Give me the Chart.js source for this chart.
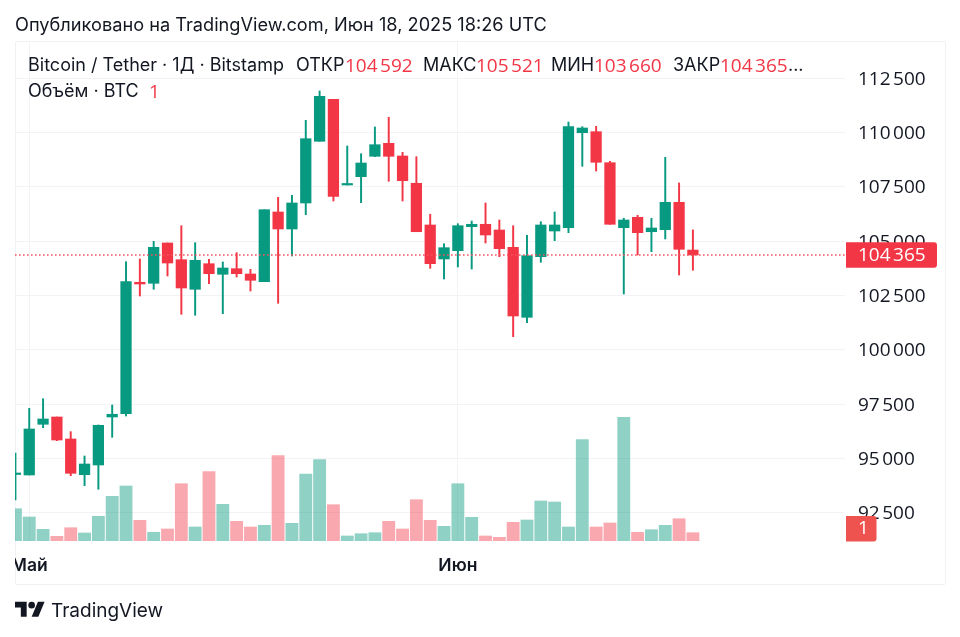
<!DOCTYPE html>
<html lang="ru"><head><meta charset="utf-8">
<script src="https://cdn.jsdelivr.net/npm/chart.js@4"></script>
<style>
html,body{margin:0;padding:0;background:#fff;width:960px;height:637px;overflow:hidden;font-family:Inter,sans-serif;color:#131722}
#frame{position:absolute;left:15px;top:41px;width:929px;height:542px;border:1px solid #f0f1f4;border-radius:2px;box-sizing:content-box}
canvas{position:absolute;left:0;top:0}
.t{position:absolute;white-space:pre;font-size:18px;line-height:20px}
.r{color:#F23645;font-family:'Open Sans',sans-serif;font-size:19px}
</style></head><body>
<div id="frame"></div>
<canvas id="c" width="960" height="637"></canvas>
<div class="t" style="left:15px;top:14px;font-size:18.2px">Опубликовано на TradingView.com, Июн 18, 2025 18:26 UTC</div>
<div class="t" style="left:28px;top:55px">Bitcoin / Tether · 1Д · Bitstamp</div>
<div class="t" style="left:296px;top:55px">ОТКР</div><div class="t r" id="vO" style="left:345px;top:55px"></div>
<div class="t" style="left:423px;top:55px">МАКС</div><div class="t r" id="vH" style="left:476px;top:55px"></div>
<div class="t" style="left:551px;top:55px">МИН</div><div class="t r" id="vL" style="left:594px;top:55px"></div>
<div class="t" style="left:673px;top:55px">ЗАКР</div><div class="t r" id="vC" style="left:720px;top:55px"></div><div class="t" style="left:788px;top:55px">...</div>
<div class="t" style="left:28px;top:81px">Объём · BTC</div><div class="t r" style="left:149px;top:81px">1</div>
<svg style="position:absolute;left:15px;top:601px" width="30" height="17" viewBox="0 4 36 18.5"><path fill="#131722" d="M14 22H7V11H0V4h14v18zM28 22h-8l7.5-18h8L28 22z"/><circle fill="#131722" cx="20" cy="8" r="4"/></svg>
<div class="t" style="left:51px;top:601px;font-size:19px">TradingView</div>
<script>
const days=[-1,0,1,2,3,4,5,6,7,8,9,10,11,12,13,14,15,16,17,18,19,20,21,22,23,24,25,26,27,28,29,30,31,32,33,34,35,36,37,38,39,40,41,42,43,44,45,46,47,48];
const opens=[94259,94236,96570,96906,95893,94250,94696,96906,97058,103108,103062,104917,104148,102786,103964,103476,103734,103490,103135,106345,105562,106759,109600,111533,107588,107970,108909,109507,108923,107666,105746,104181,104563,105668,105778,105516,104719,101496,104287,105470,105622,109995,110042,108614,105622,106100,105437,105530,106791,104592];
const highs=[95249,97307,97749,96906,96230,95111,96538,97459,104056,104181,104995,104917,105714,104931,104167,104043,104471,103706,106450,107021,107113,110566,111915,111533,109383,109029,110258,110705,109093,108891,106239,104885,105806,105930,106759,105976,105714,105272,105898,106345,110488,110272,110290,108679,106055,106193,106055,108863,107680,105521];
const lows=[93085,94236,96414,95815,94204,93743,93578,95972,96952,102477,102786,103398,101635,101589,103043,101662,103352,102707,103135,102141,104319,106220,109600,106851,107588,106773,108891,107758,106851,105437,103752,103260,103812,103720,104917,104287,100603,101248,104029,105023,105392,108448,108232,105778,102569,104365,104517,105101,103444,103660];
const closes=[94328,96354,96814,95847,94314,94742,96524,97031,103135,103030,104719,103996,102845,104121,103504,103766,103504,103200,106450,105562,106759,109719,111671,107067,107634,108600,109443,108909,107786,105437,103964,104701,105714,105778,105286,104655,101556,104333,105746,105746,110272,110212,108633,105778,105976,105392,105608,106791,104627,104365];
const volumes=[32.3,24,11.7,4.7,13.3,8,24.7,44.7,55,20.7,8.7,12,57.3,14,69.3,36.7,19.7,14,15.7,85.3,17.7,67,81.3,36.3,5,7.3,8.3,19.7,12,41.3,20.7,14.7,57.3,23.7,5,3.7,18.7,21,40,39,14,101.3,14,18,123.7,8.7,11.3,15.7,22.3,8.3];
const priceTicks=[92500,95000,97500,100000,102500,105000,107500,110000,112500];
const timeTicks=[0,31];
const timeLabels=["Май","Июн"];
const lastVolumeLabel="1";

const GREEN="#089981",RED="#F23645";
const AXIS_FONT="'Open Sans'";
const fmt=v=>String(v).replace(/\B(?=(\d{3})+$)/g,"\u202f");
const n=days.length-1;
document.getElementById("vO").textContent=fmt(opens[n]);
document.getElementById("vH").textContent=fmt(highs[n]);
document.getElementById("vL").textContent=fmt(lows[n]);
document.getElementById("vC").textContent=fmt(closes[n]);
const up=i=>closes[i]>=opens[i];

const overlay={id:"overlay",
afterDraw(ch){
  const g=ch.ctx,a=ch.chartArea,y=ch.scales.y.getPixelForValue(closes[n]);
  g.save();
  g.strokeStyle="#F7525F";g.lineWidth=1.6;g.setLineDash([1.6,2.4]);
  g.beginPath();g.moveTo(a.left,y);g.lineTo(a.right,y);g.stroke();g.setLineDash([]);
  g.fillStyle="#fff";g.fillRect(0,a.bottom+4,a.left,30);
  g.fillStyle=RED;g.beginPath();g.roundRect(a.right+1,y-12.7,91,25.4,[0,3,3,0]);g.fill();
  g.fillStyle="#fff";g.font="19px "+AXIS_FONT;g.textBaseline="middle";g.textAlign="left";
  g.fillText(fmt(closes[n]),a.right+13,y+1);
  g.fillStyle="#EF5350";g.beginPath();g.roundRect(a.right+1,a.bottom-25,30.5,25.4,[0,3,3,0]);g.fill();
  g.fillStyle="#fff";g.fillText(lastVolumeLabel,a.right+13,a.bottom-12.5);
  g.restore();
}};

new Chart(document.getElementById("c"),{
  type:"bar",
  plugins:[overlay],
  data:{datasets:[
    {label:"Тело",order:1,data:days.map((d,i)=>({x:d,y:[opens[i],closes[i]]})),barThickness:10.6,minBarLength:1.5,grouped:false,
     backgroundColor:days.map((d,i)=>up(i)?GREEN:RED)},
    {label:"Тень",order:2,data:days.map((d,i)=>({x:d,y:[lows[i],highs[i]]})),barThickness:1.3,grouped:false,
     backgroundColor:days.map((d,i)=>up(i)?GREEN:RED)},
    {label:"Объём",order:3,yAxisID:"y2",data:days.map((d,i)=>({x:d,y:volumes[i]})),barThickness:12.2,grouped:false,
     backgroundColor:days.map((d,i)=>up(i)?"rgba(8,153,129,0.45)":"rgba(242,54,69,0.43)")}
  ]},
  options:{
    responsive:false,animation:false,
    layout:{padding:{left:15,top:41,right:15,bottom:56}},
    plugins:{legend:{display:false},tooltip:{enabled:false},title:{display:false}},
    scales:{
      x:{type:"linear",offset:false,min:-1.03,max:59,
        afterBuildTicks:s=>{s.ticks=timeTicks.map(v=>({value:v}))},
        afterFit:s=>{s.height=40;s.paddingLeft=0;s.paddingRight=0},
        grid:{offset:false,color:"#f2f3f5",drawTicks:false,drawOnChartArea:true},border:{display:false},
        ticks:{autoSkip:false,maxRotation:0,padding:14,color:"#131722",font:{family:"Inter",size:17.5,weight:"600"},
          callback:v=>timeLabels[timeTicks.indexOf(v)]}},
      y:{position:"right",min:91197,max:114217,
        afterBuildTicks:s=>{s.ticks=priceTicks.map(v=>({value:v}))},
        afterFit:s=>{s.width=100},
        grid:{color:"#f2f3f5",drawTicks:false},border:{display:false},
        ticks:{padding:13,labelOffset:1,align:"center",crossAlign:"near",color:"#131722",font:{family:"'Open Sans'",size:19},callback:v=>fmt(v)}},
      y2:{display:false,position:"right",min:0,max:500}
    }
  }
});
</script>
</body></html>
